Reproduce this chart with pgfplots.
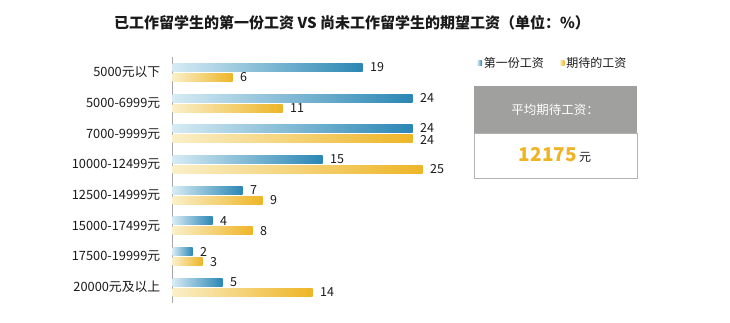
\documentclass[border=0pt]{standalone}
\usepackage{fontspec}
\setmainfont{Noto Sans CJK SC}
\usepackage{pgfplots}
\pgfplotsset{compat=1.18}
\definecolor{bluel}{HTML}{D6EBF4}
\definecolor{blued}{HTML}{2A86B4}
\definecolor{yell}{HTML}{FAEFC8}
\definecolor{yeld}{HTML}{EEB526}
\definecolor{boxgray}{HTML}{A0A19E}
\definecolor{numorange}{HTML}{F0B323}
\definecolor{txt}{HTML}{1A1A1A}
\begin{document}
\begin{tikzpicture}[x=1pt,y=1pt]
\useasboundingbox (0,0) rectangle (730,323);
\node[font=\bfseries\fontsize{15}{18}\selectfont, text=txt] at (352,300) {已工作留学生的第一份工资 VS 尚未工作留学生的期望工资（单位：\%）};
\begin{axis}[
  at={(172.7pt,20.4pt)}, anchor=south west,
  scale only axis, width=300pt, height=245.6pt,
  xbar, bar width=8pt,
  xmin=0, xmax=30, ymin=-0.5, ymax=7.5, y dir=reverse,
  axis x line=none,
  axis y line*=left,
  y axis line style={draw=gray!70, line width=0.8pt},
  ytick={0,1,2,3,4,5,6,7},
  yticklabels={5000元以下,5000-6999元,7000-9999元,10000-12499元,12500-14999元,15000-17499元,17500-19999元,20000元及以上},
  major tick length=0pt,
  yticklabel style={font=\fontsize{12.8}{15}\selectfont, text=txt, xshift=-9pt},
  /pgf/number format/assume math mode=true,
  nodes near coords,
  nodes near coords style={font=\fontsize{12.5}{14}\selectfont, text=txt, anchor=west, xshift=4pt, inner ysep=1pt},
  legend style={at={(1.005,0.976)}, anchor=west, draw=none, fill=none, legend columns=2,
    font=\fontsize{12}{14}\selectfont, text=txt,
    /tikz/every even column/.append style={column sep=14pt}},
  legend image code/.code={\fill[#1] (0pt,-2.2pt) rectangle (4.5pt,2.2pt);},
  bb/.style={draw=none, left color=bluel, right color=blued, bar shift=5pt},
  yb/.style={draw=none, left color=yell, right color=yeld, bar shift=-5pt},
  clip=false,
]
\addplot[bb] coordinates {(19,0)};
\addlegendentry{第一份工资}
\addplot[yb] coordinates {(6,0)};
\addlegendentry{期待的工资}
\addplot[bb, forget plot] coordinates {(24,1)};
\addplot[bb, forget plot, every node near coord/.append style={yshift=1pt}] coordinates {(24,2)};
\addplot[bb, forget plot] coordinates {(15,3)};
\addplot[bb, forget plot] coordinates {(7,4)};
\addplot[bb, forget plot] coordinates {(4,5)};
\addplot[bb, forget plot] coordinates {(2,6)};
\addplot[bb, forget plot] coordinates {(5,7)};
\addplot[yb, forget plot] coordinates {(11,1)};
\addplot[yb, forget plot, every node near coord/.append style={yshift=-1pt}] coordinates {(24,2)};
\addplot[yb, forget plot] coordinates {(25,3)};
\addplot[yb, forget plot] coordinates {(9,4)};
\addplot[yb, forget plot] coordinates {(8,5)};
\addplot[yb, forget plot] coordinates {(3,6)};
\addplot[yb, forget plot] coordinates {(14,7)};
\end{axis}
\fill[boxgray] (474,190) rectangle (637,237);
\draw[boxgray!80, line width=0.8pt, fill=white] (474,145) rectangle (637,190);
\node[font=\fontsize{12.5}{15}\selectfont, text=white] at (555,213) {平均期待工资：};
\node[anchor=base] at (555,161) {{\bfseries\fontsize{19}{22}\selectfont\color{numorange}12175} {\fontsize{12}{14}\selectfont\color{txt}元}};
\end{tikzpicture}
\end{document}
